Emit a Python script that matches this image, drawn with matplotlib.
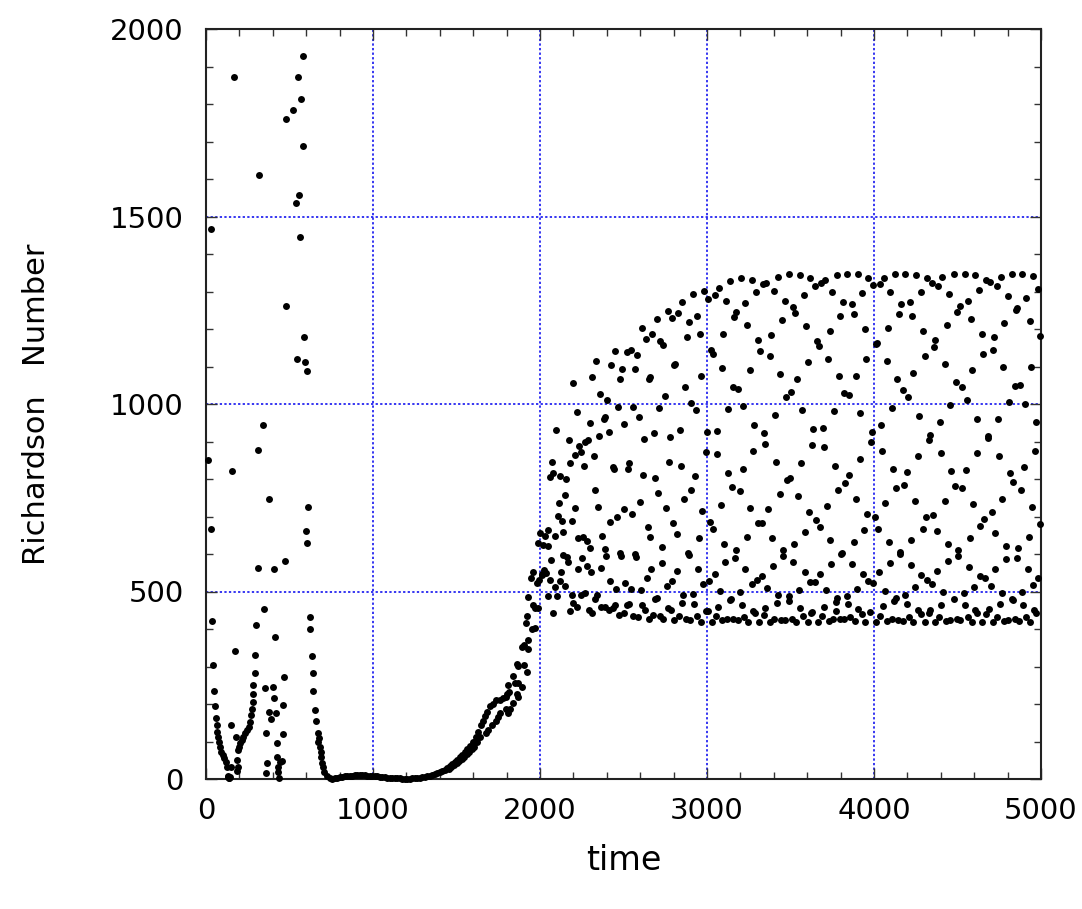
import numpy as np
import matplotlib.pyplot as plt

# (time, Richardson number) pairs

# transient before t ~ 750
early = [
    (12, 851), (28, 1467), (32, 667), (38, 422), (44, 304), (50, 235), (54, 195), (60, 163),
    (64, 144), (68, 126), (74, 113), (80, 99), (86, 86), (92, 73), (100, 64), (108, 55),
    (118, 46), (128, 33), (134, 8), (140, 2), (130, 6), (138, 3), (144, 5), (150, 33),
    (152, 144), (158, 822), (170, 1871), (172, 342), (178, 111), (184, 21), (188, 51),
    (194, 33), (189, 77), (197, 86), (203, 95), (213, 104), (223, 113), (233, 122),
    (243, 131), (255, 139), (263, 153), (269, 170), (273, 186), (279, 206), (281, 228),
    (283, 252), (293, 284), (291, 330), (301, 411), (309, 564), (313, 877), (317, 1612),
    (339, 944), (349, 453), (351, 243), (359, 124), (361, 17), (367, 42), (377, 180),
    (377, 746), (391, 160), (401, 246), (405, 215), (409, 560), (413, 380), (417, 175),
    (423, 95), (427, 59), (429, 20), (433, 33), (439, 2), (443, 46), (453, 48), (461, 120),
    (463, 198), (467, 272), (471, 582), (479, 1262), (481, 1761), (523, 1785), (539, 1537),
    (543, 1121), (553, 1871), (557, 1557), (561, 1446), (569, 1814), (581, 1689),
    (583, 1929), (589, 1180), (593, 1112), (599, 662), (603, 1088), (607, 629), (611, 726),
    (621, 431), (623, 399), (633, 328), (639, 283), (643, 234), (651, 184), (657, 155),
    (669, 123), (673, 98), (675, 110), (681, 86), (687, 73), (691, 59), (695, 42),
    (699, 33), (709, 20), (723, 8), (743, 2),
]

# quiet phase
low = [
    (755, 1), (770, 2), (785, 3), (800, 5), (815, 6), (830, 7), (845, 8), (860, 9), (875, 9),
    (890, 10), (905, 10), (920, 10), (935, 10), (950, 10), (965, 9), (980, 9), (995, 8),
    (1010, 8), (1025, 7), (1040, 6), (1055, 6), (1070, 5), (1085, 4), (1100, 4), (1115, 3),
    (1130, 3), (1145, 2), (1160, 2), (1175, 1), (1190, 1), (1205, 1), (1220, 1), (1235, 2),
    (1250, 2), (1265, 3), (1280, 4), (1295, 5), (1310, 6), (1325, 7), (1340, 9), (1355, 11),
    (1370, 13), (1385, 15), (1400, 18),
]

# growth, upper and lower branch
rise_a = [
    (1415, 21), (1430, 25), (1445, 29), (1460, 34), (1475, 39), (1490, 45), (1505, 51),
    (1520, 58), (1535, 65), (1550, 72), (1565, 79), (1581, 88), (1597, 100), (1617, 113),
    (1631, 126), (1645, 144), (1657, 156), (1671, 168), (1685, 180), (1701, 195),
    (1721, 200), (1737, 211), (1761, 211), (1781, 215), (1797, 220), (1817, 233),
    (1841, 276), (1851, 255), (1871, 257), (1861, 308), (1871, 301), (1890, 353),
    (1904, 357), (1914, 417), (1920, 436), (1930, 486), (1956, 464), (1970, 455),
    (1946, 537), (1960, 553), (2010, 547), (2034, 550),
]
rise_b = [
    (1455, 27), (1470, 32), (1485, 37), (1500, 42), (1515, 48), (1530, 54), (1545, 60),
    (1560, 66), (1575, 73), (1590, 80), (1605, 86), (1625, 100), (1641, 113), (1677, 124),
    (1691, 131), (1711, 144), (1737, 156), (1751, 166), (1761, 175), (1797, 186),
    (1811, 175), (1821, 188), (1841, 202), (1861, 227), (1871, 220), (1890, 246),
    (1801, 227), (1811, 251), (1905, 304), (1920, 286), (1930, 346), (1930, 372),
    (1950, 399), (1970, 404),
]

# saturated oscillation, 2000-5000
osc_2000 = [
    (2452, 1142), (2338, 1115), (2428, 1105), (2492, 1094), (2312, 1071), (2478, 1067),
    (2198, 1057), (2362, 1028), (2400, 1010), (2470, 992), (2222, 979), (2390, 966),
    (2382, 960), (2298, 949), (2504, 947), (2098, 930), (2412, 925), (2352, 914),
    (2172, 905), (2286, 903), (2270, 900), (2236, 887), (2248, 873), (2212, 863),
    (2322, 862), (2072, 845), (2182, 843), (2262, 835), (2440, 831), (2442, 827),
    (2080, 815), (2058, 806), (2122, 809), (2158, 800), (2330, 772), (2150, 757),
    (2112, 737), (2210, 724), (2348, 726), (2504, 719), (2462, 700), (2108, 701),
    (2420, 686), (2130, 689), (2190, 689), (2048, 665), (2002, 655), (2138, 659),
    (2090, 648), (2032, 648), (2230, 643), (2260, 646), (2282, 635), (2370, 648),
    (1986, 630), (2016, 624), (2046, 622), (2302, 617), (2392, 614), (2140, 597),
    (2164, 593), (2398, 596), (2480, 602), (2488, 595), (2068, 584), (2168, 580),
    (2252, 590), (2280, 568), (2228, 559), (2368, 563), (2308, 553), (2128, 553),
    (2024, 557), (2012, 544), (1996, 531), (1984, 523), (2062, 532), (2118, 527),
    (2152, 516), (2090, 511), (2422, 529), (2458, 507), (2506, 523), (2270, 497),
    (2248, 492), (2192, 491), (2050, 489), (2102, 487), (2340, 491), (2332, 479),
    (2200, 470), (2220, 459), (1990, 455), (2178, 449), (2292, 451), (2312, 443),
    (2076, 442), (2364, 459), (2388, 459), (2414, 452), (2450, 465), (2440, 455),
    (2476, 437), (2500, 442),
]
osc_2500 = [
    (2919, 1294), (2851, 1272), (2765, 1248), (2829, 1242), (2789, 1229), (2699, 1228),
    (2895, 1220), (2943, 1236), (2609, 1203), (2671, 1187), (2635, 1174), (2959, 1187),
    (2879, 1179), (2721, 1168), (2739, 1157), (2519, 1138), (2543, 1144), (2579, 1132),
    (2811, 1107), (2803, 1103), (2567, 1093), (2659, 1073), (2651, 1068), (2967, 1074),
    (2871, 1046), (2747, 1021), (2905, 1004), (2933, 985), (2559, 991), (2713, 990),
    (2591, 966), (2839, 930), (2681, 924), (2779, 912), (2625, 908), (2775, 846),
    (2531, 844), (2527, 828), (2843, 836), (2617, 811), (2687, 804), (2929, 809),
    (2709, 762), (2907, 770), (2861, 747), (2599, 739), (2553, 707), (2755, 723),
    (2971, 715), (2797, 682), (2645, 672), (2819, 653), (2661, 646), (2953, 643),
    (2731, 618), (2571, 599), (2577, 593), (2885, 602), (2891, 597), (2729, 576),
    (2667, 559), (2949, 559), (2821, 554), (2639, 535), (2791, 527), (2759, 514),
    (2547, 508), (2603, 503), (2979, 519), (2859, 491), (2917, 493), (2699, 483),
    (2691, 479), (2531, 468), (2521, 463), (2613, 463), (2849, 469), (2923, 467),
    (2769, 455), (2787, 451), (2629, 451), (2557, 436), (2589, 433), (2675, 438),
    (2651, 428), (2717, 436), (2737, 426), (2803, 424), (2831, 435), (2873, 427),
    (2899, 424), (2941, 435), (2963, 419),
]
osc_3000 = [
    (2984, 1301), (3008, 1279), (3048, 1292), (3072, 1310), (3138, 1327), (3202, 1335),
    (3268, 1332), (3296, 1300), (3336, 1320), (3356, 1324), (3400, 1302), (3426, 1340),
    (3466, 1276), (3112, 1275), (3228, 1270), (3176, 1246), (3164, 1232), (3242, 1212),
    (3448, 1224), (3098, 1187), (3386, 1184), (3308, 1172), (3318, 1141), (3376, 1128),
    (3024, 1144), (3036, 1133), (3088, 1096), (3256, 1092), (3440, 1081), (3154, 1046),
    (3188, 1040), (3476, 1019), (3124, 986), (3218, 995), (3408, 972), (3000, 925),
    (3058, 929), (3284, 945), (3340, 923), (3348, 894), (2992, 871), (3060, 868),
    (3278, 875), (3416, 845), (3126, 815), (3214, 827), (3148, 779), (3196, 769),
    (3436, 760), (3082, 732), (3258, 723), (3368, 721), (3020, 686), (3038, 667),
    (3306, 683), (3328, 683), (3238, 646), (3390, 644), (3100, 626), (3174, 611),
    (3168, 590), (3456, 611), (3458, 594), (3108, 579), (3230, 560), (3394, 568),
    (3046, 547), (3328, 542), (3302, 532), (3270, 520), (3014, 527), (3360, 509),
    (3078, 501), (3200, 498), (3428, 491), (3142, 480), (3136, 477), (3418, 470),
    (3208, 463), (3350, 455), (3068, 459), (2994, 449), (3006, 448), (3276, 448),
    (3288, 443), (3340, 437), (3056, 435), (3118, 427), (3092, 423), (3030, 420),
    (3158, 427), (3184, 423), (3222, 433), (3248, 419), (3314, 418), (3378, 419),
    (3404, 428), (3442, 424), (3470, 424),
]
osc_3500 = [
    (3489, 1346), (3555, 1345), (3619, 1337), (3647, 1315), (3685, 1324), (3709, 1332),
    (3777, 1344), (3839, 1348), (3903, 1347), (3967, 1337), (3579, 1292), (3749, 1300),
    (3929, 1296), (3513, 1260), (3529, 1244), (3815, 1272), (3867, 1268), (3879, 1241),
    (3799, 1235), (3595, 1207), (3735, 1196), (3945, 1201), (3659, 1167), (3671, 1156),
    (3725, 1121), (3605, 1112), (3955, 1121), (3539, 1066), (3789, 1074), (3891, 1076),
    (3505, 1033), (3823, 1029), (3853, 1025), (3567, 983), (3759, 982), (3917, 975),
    (3635, 934), (3697, 937), (3629, 891), (3699, 885), (3563, 844), (3765, 836),
    (3915, 853), (3479, 797), (3499, 802), (3849, 811), (3829, 790), (3785, 770),
    (3543, 754), (3895, 747), (3719, 729), (3609, 713), (3959, 706), (3655, 692),
    (3675, 673), (3941, 664), (3589, 658), (3739, 637), (3879, 632), (3523, 626),
    (3809, 603), (3805, 600), (3517, 579), (3745, 573), (3871, 573), (3585, 551),
    (3679, 548), (3617, 525), (3645, 525), (3935, 547), (3967, 529), (3549, 503),
    (3715, 503), (3899, 508), (3489, 488), (3493, 474), (3779, 484), (3773, 473),
    (3839, 488), (3845, 468), (3559, 456), (3631, 446), (3623, 443), (3701, 458),
    (3773, 449), (3907, 454), (3927, 439), (3979, 446), (3507, 428), (3535, 420),
    (3575, 436), (3603, 418), (3665, 418), (3691, 435), (3729, 421), (3757, 427),
    (3799, 427), (3819, 427), (3859, 431), (3885, 421), (3949, 418),
]
osc_4000 = [
    (3994, 1318), (4034, 1320), (4058, 1337), (4124, 1347), (4188, 1348), (4254, 1345),
    (4318, 1335), (4346, 1323), (4386, 1316), (4408, 1339), (4098, 1298), (4280, 1300),
    (4450, 1293), (4164, 1268), (4216, 1272), (4148, 1240), (4228, 1234), (4436, 1210),
    (4084, 1204), (4294, 1196), (4010, 1159), (4020, 1162), (4368, 1170), (4358, 1151),
    (4076, 1114), (4306, 1128), (4426, 1106), (4236, 1084), (4138, 1067), (4174, 1038),
    (4206, 1018), (4458, 997), (4108, 990), (4268, 967), (4396, 951), (4044, 945),
    (3988, 925), (4336, 918), (4328, 905), (3982, 899), (4048, 876), (4400, 869),
    (4264, 861), (4114, 828), (4198, 819), (4464, 822), (4134, 775), (4178, 784),
    (4068, 736), (4246, 741), (4424, 742), (4004, 699), (4310, 699), (4356, 705),
    (4024, 667), (4292, 668), (4376, 661), (4224, 637), (4088, 631), (4442, 626),
    (4158, 605), (4154, 600), (4096, 577), (4220, 570), (4444, 582), (4028, 553),
    (4378, 555), (4284, 543), (4316, 532), (4348, 520), (3996, 523), (4248, 511),
    (4064, 501), (4184, 491), (4416, 498), (4130, 483), (4120, 476), (4056, 461),
    (4196, 467), (4402, 463), (4262, 451), (4336, 451), (4332, 444), (4280, 440),
    (4038, 434), (4014, 420), (4080, 421), (4108, 427), (4146, 425), (4172, 422),
    (4210, 433), (4232, 420), (4304, 419), (4364, 420), (4388, 433), (4432, 422),
    (4456, 425),
]
osc_4500 = [
    (4479, 1347), (4543, 1348), (4605, 1343), (4629, 1305), (4669, 1332), (4693, 1325),
    (4735, 1315), (4761, 1340), (4825, 1348), (4889, 1348), (4955, 1342), (4985, 1308),
    (4803, 1289), (4497, 1245), (4517, 1262), (4565, 1276), (4583, 1228), (4781, 1217),
    (4849, 1251), (4859, 1256), (4913, 1282), (4933, 1222), (4645, 1188), (4721, 1178),
    (4995, 1181), (4655, 1134), (4713, 1145), (4589, 1091), (4775, 1099), (4941, 1098),
    (4489, 1059), (4525, 1045), (4555, 1010), (4843, 1049), (4877, 1052), (4811, 1005),
    (4905, 1001), (4617, 959), (4745, 959), (4973, 951), (4681, 914), (4685, 910),
    (4615, 869), (4749, 861), (4965, 875), (4553, 825), (4899, 832), (4817, 816),
    (4835, 791), (4485, 782), (4527, 777), (4879, 770), (4769, 748), (4593, 733),
    (4945, 726), (4705, 712), (4659, 694), (4637, 674), (4725, 656), (4995, 681),
    (4927, 646), (4575, 643), (4503, 611), (4503, 595), (4791, 621), (4861, 616),
    (4793, 587), (4855, 590), (4569, 565), (4727, 560), (4925, 560), (4635, 541),
    (4665, 536), (4703, 516), (4599, 513), (4953, 517), (4983, 535), (4477, 479),
    (4537, 495), (4765, 496), (4885, 498), (4825, 481), (4833, 477), (4547, 463),
    (4757, 466), (4895, 463), (4607, 452), (4619, 444), (4689, 453), (4673, 440),
    (4495, 427), (4515, 424), (4563, 433), (4585, 420), (4647, 418), (4715, 420),
    (4739, 432), (4777, 422), (4805, 425), (4847, 428), (4867, 422), (4911, 433),
    (4937, 418), (4959, 451), (4973, 444),
]

x_ticks = [0, 1000, 2000, 3000, 4000, 5000]
y_ticks = [0, 500, 1000, 1500, 2000]

pts = np.array(early + low + rise_a + rise_b + osc_2000 + osc_2500
               + osc_3000 + osc_3500 + osc_4000 + osc_4500, dtype=float)
t, ri = pts[:, 0], pts[:, 1]

fig = plt.figure(figsize=(10.82, 9.09), dpi=100)
ax = fig.add_axes([206/1082, 1 - 779/909, (1041-206)/1082, (779-29)/909])

ax.plot(t, ri, 'o', color='black', markersize=5.0, markeredgewidth=0, clip_on=False, zorder=3)

ax.set_xlim(0, 5000)
ax.set_ylim(0, 2000)
ax.set_xticks(x_ticks)
ax.set_yticks(y_ticks)
ax.set_xticks(np.arange(0, 5001, 200), minor=True)
ax.set_yticks(np.arange(0, 2001, 100), minor=True)

ax.grid(True, which='major', color='#0000ee', linestyle=(0, (1.5, 1.5)), linewidth=1.1)
ax.tick_params(which='both', direction='in', top=True, right=True, color='#333333')
ax.tick_params(which='major', length=8, width=1, labelsize=21)
ax.tick_params(axis='x', which='major', pad=13)
ax.tick_params(axis='y', which='major', pad=16)
ax.tick_params(which='minor', length=5, width=1)
for s in ax.spines.values():
    s.set_color('#222222')
    s.set_linewidth(1.5)

fig.text(623.5/1082, 1 - 860/909, 'time', fontsize=24, ha='center', va='center')
fig.text(37/1082, 1 - 404/909, 'Richardson   Number', fontsize=22,
         rotation=90, ha='center', va='center')

plt.savefig('out.png', dpi=100)
